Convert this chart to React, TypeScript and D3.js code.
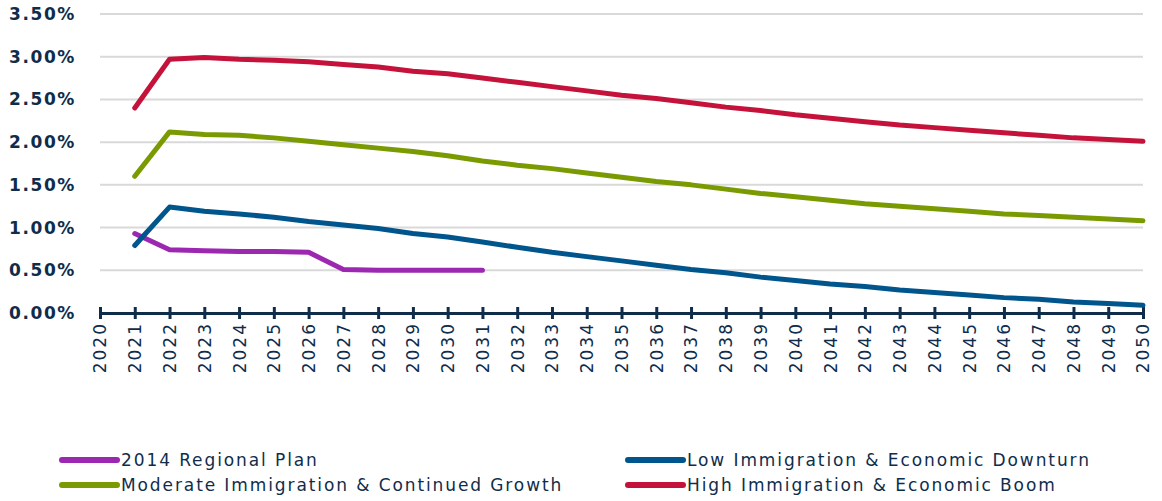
import React, { useEffect, useRef } from "react";
import * as d3 from "d3";

const years = d3.range(2020, 2051);
const seriesNames = [
  "2014 Regional Plan",
  "Low Immigration & Economic Downturn",
  "Moderate Immigration & Continued Growth",
  "High Immigration & Economic Boom",
];
const seriesColors = ["#9c27b0", "#00558c", "#7a9a01", "#c4123a"];

// values in %, starting at 2021
const regionalPlan = [0.93, 0.74, 0.73, 0.72, 0.72, 0.71, 0.51, 0.5, 0.5, 0.5, 0.5];
const lowGrowth = [0.79, 1.24, 1.19, 1.16, 1.12, 1.07, 1.03, 0.99, 0.93, 0.89, 0.83, 0.77, 0.71, 0.66, 0.61, 0.56, 0.51, 0.47, 0.42, 0.38, 0.34, 0.31, 0.27, 0.24, 0.21, 0.18, 0.16, 0.13, 0.11, 0.09];
const moderateGrowth = [1.6, 2.12, 2.09, 2.08, 2.05, 2.01, 1.97, 1.93, 1.89, 1.84, 1.78, 1.73, 1.69, 1.64, 1.59, 1.54, 1.5, 1.45, 1.4, 1.36, 1.32, 1.28, 1.25, 1.22, 1.19, 1.16, 1.14, 1.12, 1.1, 1.08];
const highGrowth = [2.4, 2.97, 2.99, 2.97, 2.96, 2.94, 2.91, 2.88, 2.83, 2.8, 2.75, 2.7, 2.65, 2.6, 2.55, 2.51, 2.46, 2.41, 2.37, 2.32, 2.28, 2.24, 2.2, 2.17, 2.14, 2.11, 2.08, 2.05, 2.03, 2.01];
const yTicks = [0, 0.5, 1, 1.5, 2, 2.5, 3, 3.5];

const W = 1162, H = 501;
const navy = "#0f2d4b";
const font = "'DejaVu Sans', sans-serif";

export default function App() {
  const ref = useRef<SVGSVGElement>(null);

  useEffect(() => {
    const svg = d3.select(ref.current);
    svg.selectAll("*").remove();

    const x = d3.scaleLinear().domain([2020, 2050]).range([100, 1143]);
    const y = d3.scaleLinear().domain([0, 3.5]).range([313, 14]);

    // gridlines
    svg.append("g")
      .selectAll("line")
      .data(yTicks.filter(t => t > 0))
      .enter()
      .append("line")
      .attr("x1", x(2020))
      .attr("x2", x(2050))
      .attr("y1", d => y(d))
      .attr("y2", d => y(d))
      .attr("stroke", "#d9d9d9")
      .attr("stroke-width", 2);

    // y labels
    svg.append("g")
      .selectAll("text")
      .data(yTicks)
      .enter()
      .append("text")
      .attr("x", 76)
      .attr("y", d => y(d) + 6)
      .attr("text-anchor", "end")
      .attr("font-family", font)
      .attr("font-size", 17)
      .attr("font-weight", "bold")
      .attr("letter-spacing", 1.6)
      .attr("fill", navy)
      .text(d => d.toFixed(2) + "%");

    // x axis
    const xAxis = svg.append("g")
      .attr("transform", "translate(0," + y(0) + ")")
      .call(d3.axisBottom(x).tickValues(years).tickFormat(d3.format("d")).tickSizeInner(0).tickSizeOuter(0));
    xAxis.select(".domain").attr("stroke", navy).attr("stroke-width", 3);
    xAxis.selectAll(".tick line")
      .attr("y1", -6)
      .attr("y2", 6)
      .attr("stroke", navy)
      .attr("stroke-width", 3);
    xAxis.selectAll(".tick text")
      .attr("transform", "rotate(-90)")
      .attr("x", -9)
      .attr("y", 0)
      .attr("dy", "0.35em")
      .attr("text-anchor", "end")
      .attr("font-family", font)
      .attr("font-size", 17)
      .attr("letter-spacing", 2)
      .attr("fill", navy);

    // lines
    const allSeries = [regionalPlan, lowGrowth, moderateGrowth, highGrowth];
    const line = d3.line<number>()
      .x((d, i) => x(2021 + i))
      .y(d => y(d));

    allSeries.forEach((s, i) => {
      svg.append("path")
        .datum(s)
        .attr("d", line)
        .attr("fill", "none")
        .attr("stroke", seriesColors[i])
        .attr("stroke-width", 5)
        .attr("stroke-linejoin", "round")
        .attr("stroke-linecap", "round");
    });

    // legend
    const legendPos = [
      { lx: 62, ly: 460 },
      { lx: 628, ly: 460 },
      { lx: 62, ly: 485 },
      { lx: 628, ly: 485 },
    ];
    const legend = svg.append("g")
      .selectAll("g")
      .data(seriesNames)
      .enter()
      .append("g")
      .attr("transform", (d, i) => "translate(" + legendPos[i].lx + "," + legendPos[i].ly + ")");
    legend.append("line")
      .attr("x1", 0)
      .attr("x2", 55)
      .attr("stroke", (d, i) => seriesColors[i])
      .attr("stroke-width", 6)
      .attr("stroke-linecap", "round");
    legend.append("text")
      .attr("x", 59)
      .attr("y", 6)
      .attr("font-family", font)
      .attr("font-size", 17)
      .attr("letter-spacing", 1.9)
      .attr("fill", navy)
      .text(d => d);
  }, []);

  return (
    <svg ref={ref} width={W} height={H}
      style={{ position: "absolute", left: 0, top: 0, background: "#fff" }} />
  );
}
